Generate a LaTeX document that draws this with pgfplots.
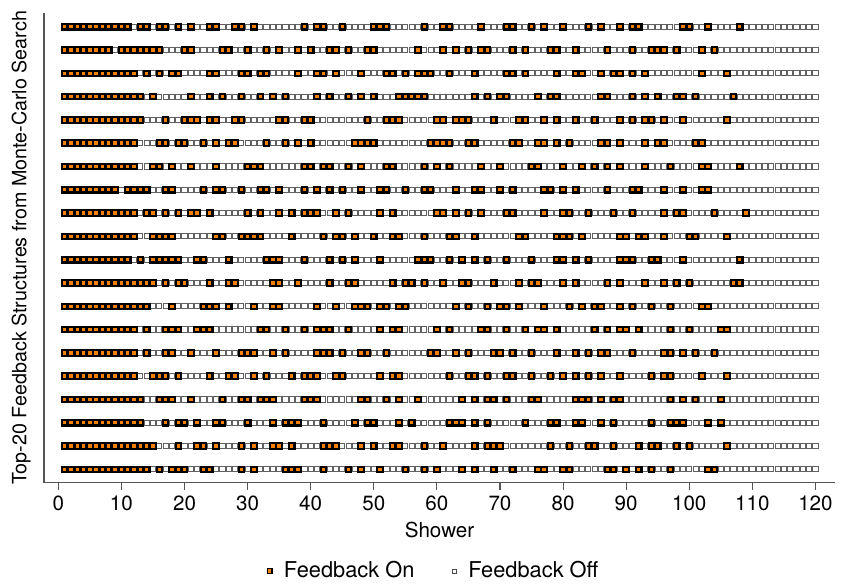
\documentclass[border=0pt]{standalone}
\usepackage{pgfplots}
\pgfplotsset{compat=1.18}
\usepackage{pgfplotstable}
\usepackage{fontspec}
\setmainfont{TeX Gyre Heros}
\definecolor{fbon}{RGB}{245,128,0}
\definecolor{axgray}{RGB}{85,85,85}

% all 120 showers of a structure
\pgfplotstableread[row sep=\\]{x\\1\\2\\3\\4\\5\\6\\7\\8\\9\\10\\11\\12\\13\\14\\15\\16\\17\\18\\19\\20\\21\\22\\23\\24\\25\\26\\27\\28\\29\\30\\31\\32\\33\\34\\35\\36\\37\\38\\39\\40\\41\\42\\43\\44\\45\\46\\47\\48\\49\\50\\51\\52\\53\\54\\55\\56\\57\\58\\59\\60\\61\\62\\63\\64\\65\\66\\67\\68\\69\\70\\71\\72\\73\\74\\75\\76\\77\\78\\79\\80\\81\\82\\83\\84\\85\\86\\87\\88\\89\\90\\91\\92\\93\\94\\95\\96\\97\\98\\99\\100\\101\\102\\103\\104\\105\\106\\107\\108\\109\\110\\111\\112\\113\\114\\115\\116\\117\\118\\119\\120\\}\showers

% showers with feedback on, one table per structure (top to bottom)
\pgfplotstableread[row sep=\\]{x\\1\\2\\3\\4\\5\\6\\7\\8\\9\\10\\11\\13\\14\\16\\17\\19\\21\\24\\25\\28\\29\\31\\39\\41\\42\\45\\50\\51\\52\\58\\61\\62\\67\\71\\72\\75\\77\\80\\84\\86\\89\\91\\92\\99\\100\\103\\108\\}\onA
\pgfplotstableread[row sep=\\]{x\\1\\2\\3\\4\\5\\6\\7\\8\\10\\11\\12\\13\\14\\15\\16\\20\\21\\26\\27\\30\\33\\35\\38\\40\\43\\44\\46\\49\\50\\57\\61\\63\\65\\67\\68\\72\\74\\78\\79\\82\\87\\91\\94\\95\\96\\98\\102\\104\\}\onB
\pgfplotstableread[row sep=\\]{x\\1\\2\\3\\4\\5\\6\\7\\8\\9\\10\\11\\12\\14\\16\\18\\19\\24\\25\\29\\30\\32\\33\\38\\41\\42\\44\\48\\52\\53\\55\\57\\58\\59\\62\\66\\71\\72\\74\\79\\82\\83\\86\\88\\89\\91\\93\\102\\106\\}\onC
\pgfplotstableread[row sep=\\]{x\\1\\2\\3\\4\\5\\6\\7\\8\\9\\10\\11\\12\\13\\15\\21\\24\\26\\29\\32\\34\\36\\41\\43\\46\\48\\50\\54\\55\\56\\57\\58\\66\\68\\70\\71\\76\\78\\79\\86\\87\\91\\93\\95\\98\\99\\101\\107\\}\onD
\pgfplotstableread[row sep=\\]{x\\1\\2\\3\\4\\5\\6\\7\\8\\9\\10\\11\\12\\13\\17\\20\\21\\22\\24\\25\\28\\29\\35\\36\\39\\40\\49\\52\\53\\54\\60\\61\\63\\64\\65\\69\\73\\74\\77\\79\\82\\85\\89\\91\\93\\94\\96\\99\\106\\}\onE
\pgfplotstableread[row sep=\\]{x\\1\\2\\3\\4\\5\\6\\7\\8\\9\\10\\11\\12\\16\\17\\19\\20\\23\\25\\27\\28\\33\\36\\38\\40\\47\\48\\49\\50\\59\\60\\61\\62\\65\\66\\72\\73\\76\\77\\79\\81\\86\\87\\89\\93\\95\\96\\101\\102\\}\onF
\pgfplotstableread[row sep=\\]{x\\1\\2\\3\\4\\5\\6\\7\\8\\9\\10\\11\\12\\15\\16\\18\\21\\25\\30\\31\\32\\39\\40\\42\\43\\46\\48\\52\\53\\58\\60\\62\\67\\70\\75\\76\\80\\83\\85\\87\\89\\93\\97\\102\\103\\108\\}\onG
\pgfplotstableread[row sep=\\]{x\\1\\2\\3\\4\\5\\6\\7\\8\\9\\11\\12\\13\\14\\17\\18\\23\\25\\26\\29\\32\\33\\35\\39\\41\\43\\45\\48\\51\\52\\55\\58\\59\\63\\66\\67\\70\\72\\77\\78\\80\\82\\87\\91\\92\\96\\99\\102\\103\\}\onH
\pgfplotstableread[row sep=\\]{x\\1\\2\\3\\4\\5\\6\\7\\8\\9\\10\\11\\12\\14\\15\\17\\19\\21\\22\\24\\30\\32\\35\\37\\39\\40\\41\\44\\46\\51\\53\\60\\61\\63\\65\\67\\71\\72\\77\\80\\81\\84\\88\\91\\96\\98\\99\\104\\109\\}\onI
\pgfplotstableread[row sep=\\]{x\\1\\2\\3\\4\\5\\6\\7\\8\\9\\10\\11\\12\\15\\16\\17\\18\\25\\26\\29\\30\\31\\32\\37\\42\\44\\45\\47\\50\\53\\54\\58\\62\\63\\66\\73\\74\\79\\80\\81\\83\\89\\90\\92\\93\\96\\100\\101\\106\\}\onJ
\pgfplotstableread[row sep=\\]{x\\1\\2\\3\\4\\5\\6\\7\\8\\9\\10\\11\\13\\15\\16\\17\\18\\19\\22\\23\\27\\33\\34\\35\\39\\43\\45\\47\\51\\57\\58\\59\\62\\64\\66\\68\\71\\75\\79\\80\\82\\84\\89\\90\\91\\94\\95\\99\\108\\}\onK
\pgfplotstableread[row sep=\\]{x\\1\\2\\3\\4\\5\\6\\7\\8\\9\\10\\11\\12\\13\\14\\15\\17\\19\\20\\24\\27\\28\\34\\35\\38\\43\\46\\47\\53\\55\\56\\58\\61\\64\\65\\69\\73\\75\\76\\80\\82\\87\\89\\93\\96\\98\\100\\107\\108\\}\onL
\pgfplotstableread[row sep=\\]{x\\1\\2\\3\\4\\5\\6\\7\\8\\9\\10\\11\\12\\13\\14\\18\\23\\24\\25\\27\\31\\34\\35\\41\\44\\47\\48\\49\\51\\52\\54\\55\\63\\65\\68\\70\\71\\73\\77\\81\\83\\85\\86\\89\\91\\94\\97\\102\\103\\}\onM
\pgfplotstableread[row sep=\\]{x\\1\\2\\3\\4\\5\\6\\7\\8\\9\\10\\11\\12\\14\\17\\18\\19\\22\\23\\24\\32\\33\\36\\39\\41\\42\\43\\46\\51\\53\\54\\60\\62\\67\\68\\71\\74\\76\\77\\79\\85\\87\\89\\90\\92\\97\\100\\105\\106\\}\onN
\pgfplotstableread[row sep=\\]{x\\1\\2\\3\\4\\5\\6\\7\\8\\9\\10\\11\\12\\14\\17\\18\\21\\25\\29\\30\\31\\34\\36\\41\\42\\43\\45\\48\\49\\52\\59\\60\\63\\65\\69\\70\\72\\75\\79\\82\\84\\86\\87\\91\\96\\97\\99\\101\\104\\}\onO
\pgfplotstableread[row sep=\\]{x\\1\\2\\3\\4\\5\\6\\7\\8\\9\\10\\11\\12\\15\\16\\17\\19\\24\\27\\28\\31\\33\\37\\39\\40\\41\\44\\45\\51\\53\\54\\62\\65\\66\\68\\71\\72\\75\\78\\80\\82\\84\\86\\89\\94\\96\\97\\102\\106\\}\onP
\pgfplotstableread[row sep=\\]{x\\1\\2\\3\\4\\5\\6\\7\\8\\9\\10\\11\\12\\13\\16\\17\\18\\21\\26\\29\\30\\32\\33\\34\\39\\40\\41\\48\\49\\52\\54\\57\\64\\66\\68\\69\\71\\75\\76\\82\\83\\84\\86\\88\\89\\97\\99\\101\\105\\}\onQ
\pgfplotstableread[row sep=\\]{x\\1\\2\\3\\4\\5\\6\\7\\8\\9\\10\\11\\12\\13\\17\\19\\20\\22\\25\\26\\30\\34\\36\\37\\38\\42\\47\\49\\50\\54\\56\\62\\63\\64\\66\\68\\74\\78\\79\\82\\83\\86\\88\\94\\97\\98\\99\\103\\105\\}\onR
\pgfplotstableread[row sep=\\]{x\\1\\2\\3\\4\\5\\6\\7\\8\\9\\10\\11\\12\\13\\14\\15\\19\\22\\23\\25\\29\\31\\34\\35\\37\\42\\43\\44\\48\\50\\53\\54\\58\\61\\66\\68\\69\\70\\78\\81\\84\\85\\88\\92\\94\\95\\98\\100\\106\\}\onS
\pgfplotstableread[row sep=\\]{x\\1\\2\\3\\4\\5\\6\\7\\8\\9\\10\\11\\12\\13\\14\\16\\18\\19\\20\\23\\24\\29\\31\\36\\37\\38\\42\\46\\48\\51\\55\\58\\60\\64\\66\\69\\72\\76\\77\\80\\81\\87\\88\\90\\92\\94\\97\\103\\104\\}\onT

\pgfplotsset{
  offst/.style={only marks, mark=square*, mark size=1.3bp,
    mark options={fill=white, draw=black!62, line width=0.45bp}},
  onunder/.style={only marks, mark=square*, mark size=1.65bp,
    mark options={fill=fbon, draw=none}},
  onst/.style={only marks, mark=square*, mark size=1.25bp,
    mark options={fill=fbon, draw=black, line width=0.8bp}},
}
\newcommand{\fbrow}[2]{%
  \addplot[offst, forget plot] table[x index=0, y index=0, y expr=#1] {\showers};
  \addplot[onunder, forget plot] table[x index=0, y index=0, y expr=#1] {#2};
  \addplot[onst, forget plot] table[x index=0, y index=0, y expr=#1] {#2};
}
\newcommand{\tickfont}{\fontsize{10.3bp}{12bp}\selectfont}
\newcommand{\ylabfont}{\fontsize{9.85bp}{12bp}\selectfont}
\newcommand{\legfont}{\fontsize{10.9bp}{12bp}\selectfont}

\begin{document}
\begin{tikzpicture}
\path[use as bounding box] (0,0) rectangle (421bp,292.5bp);
\begin{axis}[
  at={(22bp,51.15bp)}, anchor=south west,
  scale only axis, width=395.5bp, height=235bp,
  xmin=-2.27, xmax=123.1, ymin=0.425, ymax=20.6,
  axis x line=bottom, axis y line=left,
  axis line style={-, draw=axgray, line width=0.55bp},
  xtick={0,10,...,120}, ytick=\empty,
  tick align=outside, major tick length=3.6bp,
  xtick style={draw=axgray, line width=0.55bp},
  /pgf/number format/assume math mode=true,
  tick label style={font=\tickfont},
  xticklabel style={anchor=north, yshift=0.5bp},
  xlabel={Shower},
  ylabel={Top-20 Feedback Structures from Monte-Carlo Search},
  xlabel style={font=\tickfont, at={(axis description cs:0.5,0)}, anchor=center, yshift=-23.65bp},
  ylabel style={font=\ylabfont, at={(axis description cs:-0.029,0.5)}, anchor=center},
  legend style={draw=none, fill=none, font=\legfont,
    at={(axis description cs:0.494,-0.188)}, anchor=center,
    legend columns=2,
    /tikz/every odd column/.append style={column sep=4bp},
    /tikz/every even column/.append style={column sep=17bp}},
  clip=false,
]
\fbrow{20}{\onA}
\fbrow{19}{\onB}
\fbrow{18}{\onC}
\fbrow{17}{\onD}
\fbrow{16}{\onE}
\fbrow{15}{\onF}
\fbrow{14}{\onG}
\fbrow{13}{\onH}
\fbrow{12}{\onI}
\fbrow{11}{\onJ}
\fbrow{10}{\onK}
\fbrow{9}{\onL}
\fbrow{8}{\onM}
\fbrow{7}{\onN}
\fbrow{6}{\onO}
\fbrow{5}{\onP}
\fbrow{4}{\onQ}
\fbrow{3}{\onR}
\fbrow{2}{\onS}
\fbrow{1}{\onT}
\addlegendimage{only marks, mark=square*, mark size=1.2bp, mark options={fill=fbon, draw=black, line width=0.7bp}}
\addlegendentry{Feedback On}
\addlegendimage{only marks, mark=square*, mark size=1.0bp, mark options={fill=white, draw=black!70, line width=0.45bp}}
\addlegendentry{Feedback Off}
\end{axis}
\end{tikzpicture}
\end{document}
